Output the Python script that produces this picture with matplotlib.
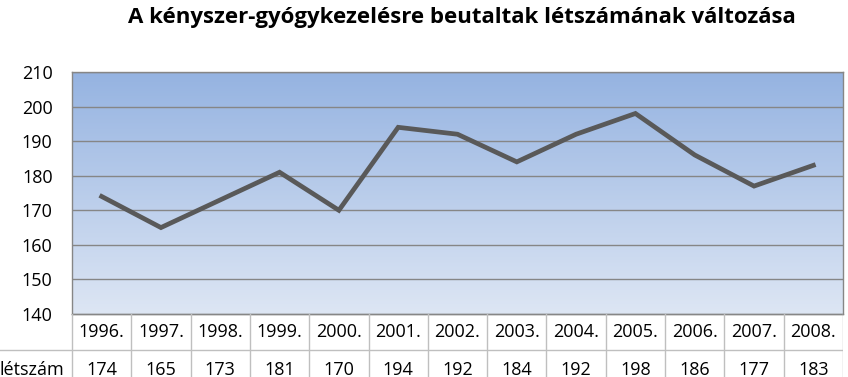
import numpy as np
import matplotlib
matplotlib.use("Agg")
import matplotlib.pyplot as plt
from matplotlib.colors import LinearSegmentedColormap

# adatok
evek = ['1996.', '1997.', '1998.', '1999.', '2000.', '2001.', '2002.',
        '2003.', '2004.', '2005.', '2006.', '2007.', '2008.']
letszam = [174, 165, 173, 181, 170, 194, 192, 184, 192, 198, 186, 177, 183]
sor_cimke = 'létszám'
cim = 'A kényszer-gyógykezelésre beutaltak létszámának változása'

plt.rcParams['font.family'] = ['Open Sans', 'DejaVu Sans']
fs = 13

W, H = 848, 377
fig = plt.figure(figsize=(W / 100, H / 100), dpi=100)

# diagram terület (pixelben)
x0, x1 = 72, 843
y_top, y_bot = 72, 314
ax = fig.add_axes([x0 / W, 1 - y_bot / H, (x1 - x0) / W, (y_bot - y_top) / H])

n = len(evek)
x = np.arange(n)
ax.set_xlim(-0.5, n - 0.5)
ax.set_ylim(140, 210)

# színátmenetes háttér
cmap = LinearSegmentedColormap.from_list('kek', ['#dde6f4', '#95b3e1'])
grad = np.linspace(0, 1, 256).reshape(-1, 1)
ax.imshow(grad, cmap=cmap, aspect='auto', origin='lower',
          extent=[-0.5, n - 0.5, 140, 210], zorder=0)

ax.set_yticks(range(140, 211, 10))
ax.yaxis.grid(True, color='#868686', linewidth=1)
ax.set_axisbelow(False)
ax.set_xticks([])
ax.tick_params(axis='y', length=0, pad=14, labelsize=fs)
for s in ax.spines.values():
    s.set_color('#868686')
    s.set_linewidth(1)

ax.plot(x, letszam, color='#595959', linewidth=3.4, solid_joinstyle='miter', zorder=3)

# adattábla
row_h = 36
col_w = (x1 - x0) / n
tax = fig.add_axes([0, 1 - (y_bot + 2 * row_h) / H, x1 / W, 2 * row_h / H])
tax.set_xlim(-0.5 - x0 / col_w, n - 0.5)
tax.set_ylim(2, 0)
tax.axis('off')
vonal = '#bfbfbf'
# vízszintes vonalak
tax.plot([-0.5, n - 0.5], [0, 0], color='#868686', lw=1)
tax.plot([-0.5 - x0 / col_w, n - 0.5], [1, 1], color=vonal, lw=1)
# függőleges vonalak
for i in range(n + 1):
    tax.plot([i - 0.5, i - 0.5], [0, 2], color=vonal, lw=1)
for i in range(n):
    tax.text(i, 0.5, evek[i], ha='center', va='center', fontsize=fs, color='#000000')
    tax.text(i, 1.55, str(letszam[i]), ha='center', va='center', fontsize=fs, color='#000000')
tax.text(-0.5 - x0 / col_w, 1.55, sor_cimke, ha='left', va='center', fontsize=fs)

fig.text(462 / W, 1 - 17 / H, cim, ha='center', va='center',
         fontsize=16, fontweight='bold')

fig.savefig('out.png', dpi=100)
